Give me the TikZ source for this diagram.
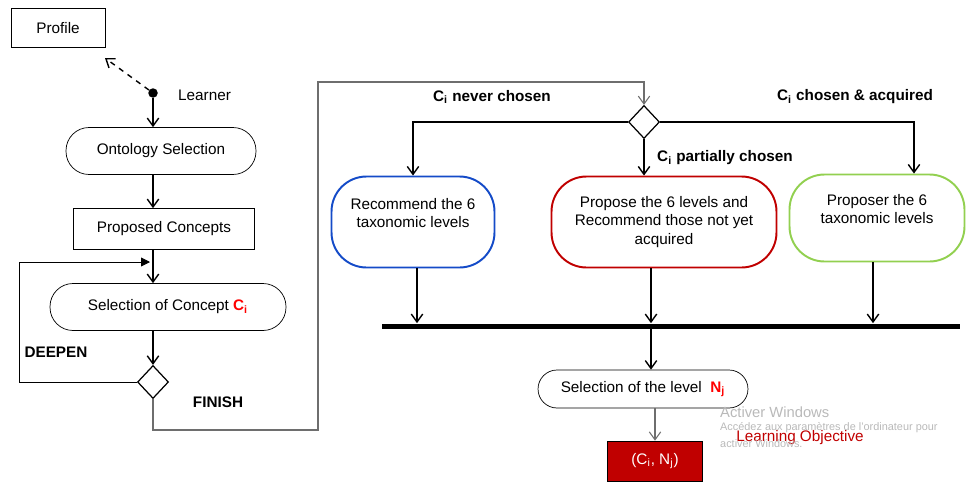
\documentclass[tikz,border=0pt]{standalone}
\usepackage{fontspec}
\setmainfont{Liberation Sans}
\usetikzlibrary{shapes.geometric, arrows.meta}
\definecolor{boxblue}{RGB}{20,75,200}
\definecolor{boxred}{RGB}{192,0,0}
\definecolor{boxgreen}{RGB}{146,208,80}
\definecolor{wline}{RGB}{110,110,110}
\definecolor{wmark}{RGB}{185,185,185}
\tikzset{
  every node/.style={font=\fontsize{8.7}{10.5}\selectfont},
  term/.style={draw, rounded corners=0.46cm, align=center, inner sep=0pt, minimum height=0.94cm},
  box/.style={draw, rectangle, align=center, inner sep=0pt},
  dec/.style={draw, diamond, inner sep=0pt, minimum width=0.62cm, minimum height=0.66cm, line width=0.7pt},
  big/.style={draw, rounded corners=0.7cm, align=center, inner sep=0pt, line width=1.1pt, minimum height=1.82cm},
  lab/.style={font=\fontsize{8.7}{10.5}\selectfont\bfseries},
  e/.style={->, line width=0.8pt},
  g/.style={->, draw=wline, line width=0.6pt},
  >={Straight Barb[length=4.5pt, width=6.5pt]}
}
\newcommand{\csub}[2]{#1\textsubscript{#2}}

\begin{document}
\begin{tikzpicture}[x=0.02cm, y=-0.02cm]
  \useasboundingbox (0,0) rectangle (966,490);

  % left column
  \node[box, minimum width=1.88cm, minimum height=0.78cm] (profile) at (58,28) {Profile};
  \node[circle, fill, inner sep=0pt, minimum size=0.19cm] (start) at (153,93) {};
  \node[anchor=west] (learner) at (172,95) {Learner};
  \node[term, minimum width=3.8cm] (onto) at (161,151) {Ontology Selection};
  \node[box, minimum width=3.62cm, minimum height=0.82cm] (concepts) at (164,229) {Proposed Concepts};
  \node[term, minimum width=4.72cm] (selc) at (168,307) {Selection of Concept {\bfseries\color{red}\csub{C}{i}}};
  \node[dec] (d1) at (153,382) {};
  \node[lab] (deepen) at (56,352) {DEEPEN};
  \node[lab] (finish) at (218,402) {FINISH};
  \coordinate (pr) at (105,58);
  \coordinate (lp) at (150,262);

  \draw[e, dashed] (start) -- (pr);
  \draw[e] (start) -- (start |- onto.north);
  \draw[e] (onto.south -| start) -- (concepts.north -| start);
  \draw[e] (concepts.south -| start) -- (selc.north -| start);
  \draw[e] (selc.south -| d1) -- (d1.north);
  \draw[-{Triangle[length=5pt, width=5pt]}, line width=0.5pt] (d1.west) -- (19,382) -- (19,262) -- (lp);

  % right part
  \node[dec] (d2) at (644,122) {};
  \node[lab] (never) at (492,97) {\csub{C}{i} never chosen};
  \node[lab] (acq) at (855,97) {\csub{C}{i} chosen \& acquired};
  \node[lab, anchor=west] (part) at (651,158) {\csub{C}{i} partially chosen};
  \node[big, draw=boxblue, minimum width=3.26cm] (rec) at (413,222) {Recommend the 6\\taxonomic levels\\ \mbox{}};
  \node[big, draw=boxred, minimum width=4.5cm] (prop) at (664,222) {Propose the 6 levels and\\Recommend those not yet\\acquired};
  \node[big, draw=boxgreen, minimum width=3.5cm, minimum height=1.74cm] (propr) at (877,218) {Proposer the 6\\taxonomic levels\\ \mbox{}};
  \node[fill, inner sep=0pt, minimum width=11.56cm, minimum height=0.1cm] (bar) at (671,326) {};
  \node[term, minimum width=4.2cm, minimum height=0.76cm, rounded corners=0.38cm] (lvl) at (643,389) {Selection of the level \ {\bfseries\color{red}\csub{N}{j}}};
  \node[box, fill=boxred, text=white, minimum width=1.9cm, minimum height=0.8cm] (obj) at (655,461) {(\csub{C}{i}, \csub{N}{j})};
  \node[text=boxred] (lo) at (800,438) {Learning Objective};

  \draw[g] (d1.south) |- (318,430) -- (318,82) -| (d2.north);
  \draw[e] (d2.west) -| (rec.north);
  \draw[e] (d2.east) -| ([xshift=0.74cm]propr.north);
  \draw[e] (d2.south) -- (d2.south |- prop.north);
  \draw[e] ([xshift=0.08cm]rec.south) -- ([xshift=0.08cm]rec.south |- bar.north);
  \draw[e] ([xshift=-0.26cm]prop.south) -- ([xshift=-0.26cm]prop.south |- bar.north);
  \draw[e] ([xshift=-0.08cm]propr.south) -- ([xshift=-0.08cm]propr.south |- bar.north);
  \draw[e] ([xshift=0.16cm]bar.south -| lvl.north) -- ([xshift=0.16cm]lvl.north);
  \draw[g] (lvl.south -| obj.north) -- (obj.north);

  % screen watermark
  \node[anchor=west, text=wmark, font=\fontsize{8.4}{10}\selectfont] (w1) at (714,412) {Activer Windows};
  \node[anchor=west, text=wmark, font=\fontsize{6.2}{7.5}\selectfont] (w2) at (714,428) {Accédez aux paramètres de l'ordinateur pour};
  \node[anchor=west, text=wmark, font=\fontsize{6.2}{7.5}\selectfont] (w3) at (714,444) {activer Windows.};
\end{tikzpicture}
\end{document}
